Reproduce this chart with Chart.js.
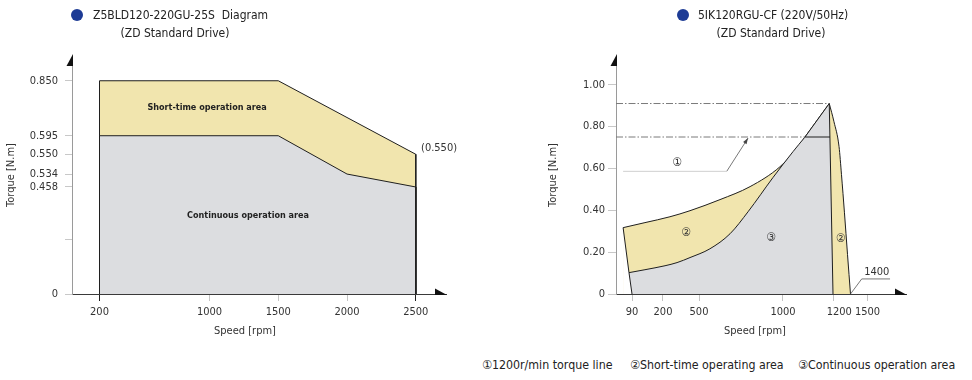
<!DOCTYPE html>
<html><head><meta charset="utf-8">
<script src="https://cdn.jsdelivr.net/npm/chart.js@4.4.1/dist/chart.umd.min.js"></script>
<style>
html,body{margin:0;padding:0;background:#fff;}
body{width:972px;height:380px;position:relative;overflow:hidden;font-family:'DejaVu Sans Condensed','Liberation Sans Narrow','DejaVu Sans',sans-serif;color:#222;}
.t{position:absolute;font-size:12px;line-height:14px;white-space:pre;}
.lg{font-size:12.3px;}
.c{text-align:center;width:200px;}
.dot{position:absolute;width:12px;height:12px;border-radius:50%;background:#1d3b95;}
canvas{position:absolute;top:0;}
</style></head><body>
<canvas id="c1" width="480" height="345" style="left:0px"></canvas>
<canvas id="c2" width="432" height="345" style="left:540px"></canvas>

<div class="dot" style="left:71px;top:9px"></div>
<div class="t" style="left:93px;top:8px">Z5BLD120-220GU-25S  Diagram</div>
<div class="t c" style="left:75px;top:26px">(ZD Standard Drive)</div>

<div class="dot" style="left:677px;top:9px"></div>
<div class="t" style="left:698px;top:8px">5IK120RGU-CF (220V/50Hz)</div>
<div class="t c" style="left:671px;top:26px">(ZD Standard Drive)</div>

<div class="t lg" style="left:482px;top:358px">①1200r/min torque line</div>
<div class="t lg" style="left:630px;top:358px">②Short-time operating area</div>
<div class="t lg" style="left:798px;top:358px">③Continuous operation area</div>

<script>
// ---------------- data: left chart (Z5BLD120-220GU-25S) ----------------
const leftSpeedTicks  = [200, 1000, 1500, 2000, 2500];
const leftSpeedLabels = ['200', '1000', '1500', '2000', '2500'];
const leftTorqueTicks  = [0, 0.2, 0.458, 0.534, 0.550, 0.595, 0.850];
const leftTorqueLabels = ['0', '', '0.458', '0.534', '0.550', '0.595', '0.850'];
const leftShortSpeed  = [200, 200, 1500, 2500, 2500];
const leftShortTorque = [0, 0.850, 0.850, 0.550, 0];
const leftContSpeed   = [200, 200, 1500, 2000, 2500, 2500];
const leftContTorque  = [0, 0.595, 0.595, 0.534, 0.458, 0];
const leftNotes = [
  ['Short-time operation area', 982, 0.724],
  ['Continuous operation area', 1280, 0.314],
  ['(0.550)', 2538, 0.565]
];

// ---------------- data: right chart (5IK120RGU-CF) ----------------
const rightSpeedTicks  = [90, 200, 500, 1000, 1200, 1500];
const rightSpeedLabels = ['90', '200', '500', '1000', '    1200', '1500'];
const rightTorqueTicks  = [0, 0.2, 0.4, 0.6, 0.8, 1.0];
const rightTorqueLabels = ['0', '0.20', '0.40', '0.60', '0.80', '1.00'];
// short-time operating area boundary
const shortUpperSpeed  = [40, 136, 258, 425, 625, 804, 982, 1068, 1088];
const shortUpperTorque = [0.317, 0.341, 0.369, 0.398, 0.451, 0.513, 0.608, 0.713, 0.75];
const shortPeakSpeed   = [1088, 1185];
const shortPeakTorque  = [0.75, 0.91];
const shortRightSpeed  = [1185, 1211, 1269, 1297, 1331, 1366, 1400];
const shortRightTorque = [0.91, 0.823, 0.704, 0.570, 0.388, 0.188, 0];
const shortLeftSpeed   = [40, 73, 90];
const shortLeftTorque  = [0.317, 0.102, 0];
// continuous operation area boundary
const contLowerSpeed   = [73, 136, 217, 317, 425, 565, 685, 792, 940, 1040, 1088];
const contLowerTorque  = [0.102, 0.116, 0.135, 0.150, 0.174, 0.216, 0.288, 0.393, 0.556, 0.680, 0.75];
const contPeakSpeed    = [1088, 1185, 1200];
const contPeakTorque   = [0.75, 0.91, 0];
// reference lines
const line1200Speed  = [1088, 1188];
const line1200Torque = [0.75, 0.75];
const peakDashSpeed  = [0, 1185];
const peakDashTorque = [0.91, 0.91];
const ratedDashSpeed  = [0, 1088];
const ratedDashTorque = [0.75, 0.75];
const note1RefSpeed  = [40, 665];
const note1RefTorque = [0.586, 0.586];
const note1ArrowSpeed  = [665, 792];
const note1ArrowTorque = [0.586, 0.745];
const leader1400Speed  = [1400, 1466, 1693];
const leader1400Torque = [0, 0.072, 0.072];
const rightNotes = [
  ['①', 317, 0.627],
  ['②', 392, 0.293],
  ['③', 929, 0.269],
  ['②', 1288, 0.263],
  ['1400', 1579, 0.103]
];

// ---------------- scale layout (positions along axis, 0..1) ----------------
const leftYStops  = [[0, 0], [0.2, 0.231], [0.458, 0.4496], [0.534, 0.504], [0.550, 0.587], [0.595, 0.665], [0.850, 0.896], [0.95, 1]];
const rightXStops = [[0, 0], [90, 0.0576], [200, 0.169], [500, 0.2986], [1000, 0.6007], [1200, 0.7806], [1400, 0.8435], [1500, 0.9047], [1727, 1]];

const LinearBase = Chart.LinearScale || Chart.registry.getScale('linear');
class PiecewiseScale extends LinearBase {
  determineDataLimits() {
    const s = this.options.stops;
    this.min = s[0][0]; this.max = s[s.length - 1][0];
  }
  buildTicks() { return this.options.tickValues.map(v => ({ value: v })); }
  _dec(v) {
    const s = this.options.stops;
    let i = 1;
    while (i < s.length - 1 && v > s[i][0]) i++;
    const a = s[i - 1], b = s[i];
    return a[1] + (v - a[0]) * (b[1] - a[1]) / (b[0] - a[0]);
  }
  getPixelForValue(v) { return this.getPixelForDecimal(this._dec(v)); }
  getValueForPixel(p) {
    const d = this.getDecimalForPixel(p), s = this.options.stops;
    let i = 1;
    while (i < s.length - 1 && d > s[i][1]) i++;
    const a = s[i - 1], b = s[i];
    return a[0] + (d - a[1]) * (b[0] - a[0]) / (b[1] - a[1]);
  }
}
PiecewiseScale.id = 'piecewise';
PiecewiseScale.defaults = {};
Chart.register(PiecewiseScale);

// ---------------- helpers ----------------
const FONT = "'DejaVu Sans Condensed','Liberation Sans Narrow','DejaVu Sans',sans-serif";
const YELLOW = '#f1e5ae', GRAY = '#dcdde0', EDGE = '#1f1f1f';
const pts = (xs, ys) => xs.map((v, i) => ({ x: v, y: ys[i] }));
const area = (label, xs, ys, color, smooth) => Object.assign({ label, data: pts(xs, ys), borderColor: EDGE, borderWidth: 1,
  backgroundColor: color, fill: 'origin', pointRadius: 0, tension: 0 },
  smooth ? { cubicInterpolationMode: 'monotone' } : {});
const line = (label, xs, ys, color, dash, w) => ({ label, data: pts(xs, ys), borderColor: color,
  borderWidth: w || 1, borderDash: dash || [], fill: false, pointRadius: 0, tension: 0 });

function decorations(cfg) {
  return {
    id: 'decor',
    afterDraw(chart) {
      const { ctx, chartArea: a, scales: { x, y } } = chart;
      ctx.save();
      const by = Math.round(a.bottom) + 0.5, lx = Math.round(a.left) + 0.5;
      ctx.strokeStyle = '#3a3a3a'; ctx.lineWidth = 1;
      ctx.beginPath(); ctx.moveTo(a.right, by); ctx.lineTo(a.right + cfg.ext, by); ctx.stroke();
      ctx.fillStyle = '#111';
      const tip = a.right + cfg.ext;
      ctx.beginPath(); ctx.moveTo(tip - 12, by - 6); ctx.lineTo(tip, by + 0.5); ctx.lineTo(tip - 12, by + 0.5); ctx.closePath(); ctx.fill();
      ctx.beginPath(); ctx.moveTo(lx + 0.5, a.top - 2); ctx.lineTo(lx + 0.5, a.top + 10); ctx.lineTo(lx - 6, a.top + 10); ctx.closePath(); ctx.fill();
      (cfg.arrows || []).forEach(([x0, y0, x1, y1]) => {
        const p0x = x.getPixelForValue(x0), p0y = y.getPixelForValue(y0);
        const p1x = x.getPixelForValue(x1), p1y = y.getPixelForValue(y1);
        const ang = Math.atan2(p1y - p0y, p1x - p0x);
        ctx.fillStyle = '#444';
        ctx.beginPath();
        ctx.moveTo(p1x, p1y);
        ctx.lineTo(p1x - 6 * Math.cos(ang) + 2 * Math.sin(ang), p1y - 6 * Math.sin(ang) - 2 * Math.cos(ang));
        ctx.lineTo(p1x - 6 * Math.cos(ang) - 2 * Math.sin(ang), p1y - 6 * Math.sin(ang) + 2 * Math.cos(ang));
        ctx.closePath(); ctx.fill();
      });
      ctx.textBaseline = 'middle';
      cfg.notes.forEach(([t, vx, vy]) => {
        const style = cfg.style(t);
        ctx.font = style.font; ctx.fillStyle = style.color; ctx.textAlign = style.align;
        ctx.fillText(t, x.getPixelForValue(vx), y.getPixelForValue(vy));
      });
      ctx.restore();
    }
  };
}

const tickFont = { family: FONT, size: 11 };
const baseOptions = (padRight) => ({
  responsive: false, animation: false, events: [],
  layout: { padding: { top: 56, right: padRight, left: 0, bottom: 0 } },
  plugins: { legend: { display: false }, tooltip: { enabled: false } }
});

// ---------------- left chart ----------------
new Chart(document.getElementById('c1'), {
  type: 'line',
  data: { datasets: [
    area('Continuous operation area', leftContSpeed, leftContTorque, GRAY),
    area('Short-time operation area', leftShortSpeed, leftShortTorque, YELLOW)
  ] },
  options: Object.assign(baseOptions(62), {
    scales: {
      x: { type: 'linear', min: 0, max: 2516,
        afterBuildTicks: s => { s.ticks = leftSpeedTicks.map(v => ({ value: v })); },
        afterFit: s => { s.height = 51; },
        grid: { drawOnChartArea: false, tickLength: 7,
          color: c => (c.tick && (c.tick.value === 200 || c.tick.value === 2500)) ? EDGE : '#c4c4c4' },
        border: { color: '#3a3a3a', width: 1 },
        ticks: { autoSkip: false, maxRotation: 0, padding: 5, color: '#333', font: tickFont,
          callback: (v, i) => leftSpeedLabels[i] },
        title: { display: true, text: 'Speed [rpm]', color: '#333', font: tickFont, padding: { top: 0, bottom: 7 } }
      },
      y: { type: 'piecewise', stops: leftYStops, tickValues: leftTorqueTicks,
        afterFit: s => { s.width = 72; },
        grid: { drawOnChartArea: false, tickLength: 7, color: '#c8c8c8' },
        border: { color: '#9a9a9a', width: 1 },
        ticks: { autoSkip: false, padding: 7, color: '#333', font: tickFont,
          callback: (v, i) => leftTorqueLabels[i] },
        title: { display: true, text: 'Torque [N.m]', color: '#333', font: tickFont, padding: { top: 5, bottom: 0 } }
      }
    }
  }),
  plugins: [decorations({ ext: 29, notes: leftNotes,
    style: t => t[0] === '(' ? { font: '11px ' + FONT, color: '#333', align: 'left' }
                             : { font: 'bold 9px ' + FONT, color: '#222', align: 'center' } })]
});

// ---------------- right chart ----------------
new Chart(document.getElementById('c2'), {
  type: 'line',
  data: { datasets: [
    line('1200r/min torque line', line1200Speed, line1200Torque, EDGE, [], 1),
    line('peak', peakDashSpeed, peakDashTorque, '#7a7a7a', [7, 2, 1.5, 2], 1),
    line('rated', ratedDashSpeed, ratedDashTorque, '#7a7a7a', [7, 2, 1.5, 2], 1),
    line('ref', note1RefSpeed, note1RefTorque, '#cfcfcf', [], 1),
    line('arrow', note1ArrowSpeed, note1ArrowTorque, '#555', [], 0.8),
    line('1400', leader1400Speed, leader1400Torque, '#555', [], 0.8),
    area('left edge', shortLeftSpeed, shortLeftTorque, '#ffffff'),
    area('Continuous operation area (peak)', contPeakSpeed, contPeakTorque, GRAY),
    area('Continuous operation area', contLowerSpeed, contLowerTorque, GRAY, true),
    area('Short-time operating area (right)', shortRightSpeed, shortRightTorque, YELLOW, true),
    area('Short-time operating area (peak)', shortPeakSpeed, shortPeakTorque, YELLOW),
    area('Short-time operating area', shortUpperSpeed, shortUpperTorque, YELLOW, true)
  ] },
  options: Object.assign(baseOptions(78), {
    scales: {
      x: { type: 'piecewise', stops: rightXStops, tickValues: rightSpeedTicks,
        afterFit: s => { s.height = 51; },
        grid: { drawOnChartArea: false, tickLength: 7, color: '#c4c4c4' },
        border: { color: '#3a3a3a', width: 1 },
        ticks: { autoSkip: false, maxRotation: 0, padding: 5, color: '#333', font: tickFont,
          callback: (v, i) => rightSpeedLabels[i] },
        title: { display: true, text: 'Speed [rpm]', color: '#333', font: tickFont, padding: { top: 0, bottom: 7 } }
      },
      y: { type: 'linear', min: 0, max: 1.137,
        afterBuildTicks: s => { s.ticks = rightTorqueTicks.map(v => ({ value: v })); },
        afterFit: s => { s.width = 76; },
        grid: { drawOnChartArea: false, tickLength: 8, color: '#c8c8c8' },
        border: { color: '#9a9a9a', width: 1 },
        ticks: { autoSkip: false, padding: 3, color: '#333', font: tickFont,
          callback: (v, i) => rightTorqueLabels[i] },
        title: { display: true, text: 'Torque [N.m]', color: '#333', font: tickFont, padding: { top: 7, bottom: 0 } }
      }
    }
  }),
  plugins: [decorations({ ext: 13, notes: rightNotes,
    arrows: [[note1ArrowSpeed[0], note1ArrowTorque[0], note1ArrowSpeed[1], note1ArrowTorque[1]]],
    style: t => t === '1400' ? { font: '11px ' + FONT, color: '#333', align: 'center' }
                             : { font: '12px ' + FONT, color: '#333', align: 'center' } })]
});
</script>
</body></html>
